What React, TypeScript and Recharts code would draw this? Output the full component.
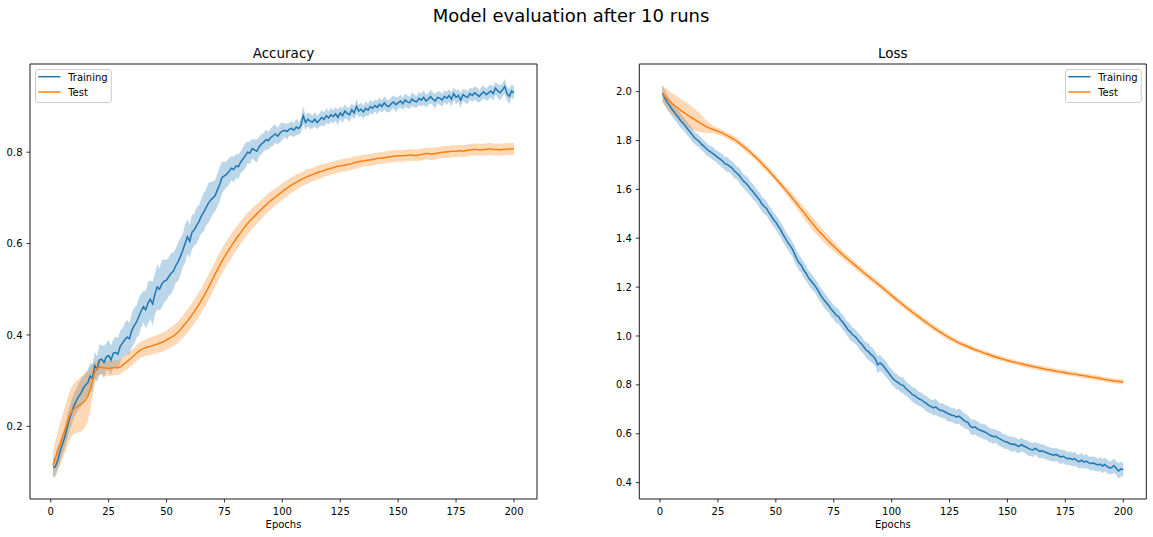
import React from 'react';
import { ComposedChart, Line, Area, XAxis, YAxis, ReferenceArea } from 'recharts';

// ---------- data ----------
const epochs: number[] = Array.from({ length: 200 }, (_, i) => i + 1);
const xTicks = [0, 25, 50, 75, 100, 125, 150, 175, 200];
const accTicks = [0.2, 0.4, 0.6, 0.8];
const lossTicks = [0.4, 0.6, 0.8, 1.0, 1.2, 1.4, 1.6, 1.8, 2.0];
const seriesNames = ['Training', 'Test'];
const mainTitle = 'Model evaluation after 10 runs';
const panelTitles = ['Accuracy', 'Loss'];
const xLabel = 'Epochs';

const trainAcc = [
  0.110, 0.112, 0.125, 0.145, 0.160, 0.175, 0.195, 0.215, 0.230, 0.245,
  0.255, 0.265, 0.272, 0.283, 0.290, 0.295, 0.310, 0.305, 0.333, 0.325,
  0.345, 0.347, 0.340, 0.352, 0.355, 0.345, 0.360, 0.362, 0.358, 0.375,
  0.382, 0.390, 0.395, 0.392, 0.410, 0.420, 0.428, 0.440, 0.452, 0.462,
  0.455, 0.470, 0.478, 0.468, 0.490, 0.505, 0.500, 0.512, 0.518, 0.520,
  0.528, 0.535, 0.540, 0.552, 0.560, 0.572, 0.585, 0.600, 0.615, 0.605,
  0.625, 0.630, 0.640, 0.648, 0.660, 0.668, 0.678, 0.688, 0.695, 0.700,
  0.705, 0.718, 0.730, 0.745, 0.748, 0.752, 0.758, 0.765, 0.762, 0.770,
  0.768, 0.778, 0.785, 0.792, 0.800, 0.798, 0.808, 0.805, 0.802, 0.812,
  0.818, 0.822, 0.828, 0.825, 0.832, 0.836, 0.840, 0.835, 0.842, 0.846,
  0.848, 0.845, 0.850, 0.852, 0.848, 0.855, 0.852, 0.858, 0.880, 0.865,
  0.872, 0.868, 0.866, 0.872, 0.865, 0.870, 0.876, 0.872, 0.880, 0.875,
  0.882, 0.878, 0.884, 0.876, 0.886, 0.880, 0.890, 0.885, 0.882, 0.893,
  0.886, 0.900, 0.890, 0.894, 0.888, 0.896, 0.892, 0.900, 0.896, 0.902,
  0.898, 0.905, 0.900, 0.908, 0.902, 0.900, 0.906, 0.910, 0.904, 0.908,
  0.912, 0.906, 0.914, 0.910, 0.908, 0.916, 0.912, 0.910, 0.918, 0.914,
  0.920, 0.912, 0.916, 0.922, 0.916, 0.912, 0.920, 0.918, 0.914, 0.922,
  0.918, 0.924, 0.916, 0.928, 0.920, 0.924, 0.914, 0.926, 0.922, 0.920,
  0.928, 0.924, 0.930, 0.926, 0.922, 0.928, 0.932, 0.926, 0.930, 0.934,
  0.928, 0.940, 0.934, 0.930, 0.936, 0.944, 0.928, 0.922, 0.934, 0.930,
];

const trainAccStd = [
  .020, .022, .024, .024, .022, .024, .026, .027, .028, .027,
  .026, .028, .030, .028, .027, .029, .028, .031, .030, .028,
  .034, .031, .036, .030, .034, .032, .030, .034, .036, .034,
  .032, .036, .038, .034, .037, .040, .035, .041, .037, .035,
  .040, .046, .042, .048, .044, .050, .046, .052, .047, .044,
  .042, .045, .040, .038, .042, .040, .036, .042, .038, .036,
  .038, .035, .040, .036, .038, .042, .039, .044, .040, .036,
  .034, .036, .038, .035, .030, .028, .030, .026, .028, .026,
  .027, .024, .026, .028, .023, .025, .021, .023, .025, .021,
  .022, .020, .022, .019, .020, .022, .020, .018, .020, .019,
  .015, .017, .014, .016, .015, .018, .014, .016, .020, .016,
  .015, .017, .014, .016, .015, .014, .017, .015, .016, .014,
  .016, .014, .015, .017, .014, .016, .015, .013, .016, .015,
  .014, .016, .013, .015, .014, .016, .013, .015, .014, .013,
  .015, .014, .013, .015, .014, .013, .015, .014, .016, .013,
  .014, .013, .015, .014, .013, .015, .014, .013, .015, .014,
  .016, .014, .013, .015, .014, .016, .013, .015, .014, .013,
  .015, .014, .016, .013, .015, .014, .016, .013, .015, .014,
  .013, .015, .014, .016, .013, .015, .014, .013, .015, .014,
  .016, .014, .015, .017, .014, .016, .015, .017, .014, .015,
];

const testAcc = [
  0.115, 0.130, 0.148, 0.160, 0.175, 0.190, 0.205, 0.222, 0.232, 0.238,
  0.242, 0.245, 0.248, 0.252, 0.258, 0.265, 0.280, 0.300, 0.318, 0.327,
  0.330, 0.329, 0.328, 0.327, 0.327, 0.327, 0.328, 0.328, 0.329, 0.330,
  0.334, 0.338, 0.342, 0.346, 0.350, 0.355, 0.360, 0.364, 0.368, 0.370,
  0.372, 0.374, 0.375, 0.377, 0.378, 0.380, 0.382, 0.384, 0.386, 0.389,
  0.392, 0.395, 0.398, 0.402, 0.406, 0.412, 0.418, 0.424, 0.430, 0.437,
  0.444, 0.451, 0.459, 0.467, 0.475, 0.484, 0.493, 0.503, 0.513, 0.523,
  0.533, 0.543, 0.553, 0.562, 0.571, 0.579, 0.587, 0.595, 0.603, 0.610,
  0.617, 0.624, 0.631, 0.638, 0.644, 0.650, 0.655, 0.660, 0.665, 0.670,
  0.675, 0.680, 0.685, 0.690, 0.694, 0.698, 0.702, 0.706, 0.710, 0.714,
  0.718, 0.721, 0.725, 0.728, 0.731, 0.734, 0.737, 0.740, 0.742, 0.745,
  0.747, 0.749, 0.751, 0.753, 0.755, 0.757, 0.758, 0.760, 0.762, 0.763,
  0.765, 0.766, 0.768, 0.769, 0.770, 0.771, 0.772, 0.773, 0.774, 0.775,
  0.777, 0.778, 0.779, 0.780, 0.781, 0.782, 0.783, 0.783, 0.784, 0.785,
  0.786, 0.787, 0.787, 0.788, 0.789, 0.790, 0.790, 0.791, 0.791, 0.792,
  0.792, 0.792, 0.793, 0.793, 0.794, 0.794, 0.793, 0.793, 0.794, 0.795,
  0.796, 0.797, 0.797, 0.796, 0.796, 0.797, 0.798, 0.799, 0.800, 0.800,
  0.801, 0.801, 0.802, 0.802, 0.802, 0.803, 0.803, 0.802, 0.803, 0.804,
  0.805, 0.806, 0.806, 0.806, 0.805, 0.805, 0.806, 0.806, 0.807, 0.807,
  0.806, 0.806, 0.806, 0.805, 0.806, 0.806, 0.807, 0.807, 0.807, 0.807,
];

const testAccStd = [
  .030, .035, .040, .045, .048, .050, .052, .053, .054, .055,
  .057, .058, .060, .060, .058, .055, .048, .036, .024, .018,
  .016, .016, .016, .016, .016, .016, .016, .016, .016, .016,
  .016, .016, .017, .017, .017, .017, .017, .018, .018, .018,
  .018, .019, .019, .019, .020, .020, .020, .021, .021, .021,
  .022, .022, .022, .023, .023, .024, .024, .025, .025, .026,
  .026, .026, .027, .027, .027, .028, .028, .028, .028, .028,
  .028, .028, .028, .028, .028, .027, .027, .027, .026, .026,
  .026, .025, .025, .024, .024, .023, .023, .022, .022, .021,
  .021, .021, .020, .020, .020, .019, .019, .019, .018, .018,
  .018, .018, .017, .017, .017, .017, .016, .016, .016, .016,
  .016, .015, .015, .015, .015, .015, .015, .014, .014, .014,
  .014, .014, .014, .014, .014, .014, .014, .014, .014, .014,
  .014, .014, .013, .013, .013, .013, .013, .013, .013, .013,
  .013, .013, .013, .013, .013, .013, .013, .013, .013, .013,
  .013, .013, .013, .013, .013, .013, .013, .013, .013, .013,
  .013, .013, .013, .013, .013, .013, .013, .013, .013, .013,
  .013, .013, .013, .013, .013, .013, .013, .013, .013, .013,
  .013, .013, .013, .013, .013, .013, .013, .013, .013, .013,
  .013, .013, .013, .013, .013, .013, .013, .013, .013, .013,
];

const trainLoss = [
  1.995, 1.975, 1.958, 1.945, 1.930, 1.918, 1.905, 1.893, 1.880, 1.870,
  1.858, 1.846, 1.835, 1.822, 1.810, 1.803, 1.795, 1.784, 1.776, 1.766,
  1.758, 1.752, 1.745, 1.738, 1.730, 1.724, 1.716, 1.705, 1.702, 1.695,
  1.688, 1.676, 1.668, 1.660, 1.646, 1.634, 1.626, 1.616, 1.602, 1.592,
  1.580, 1.568, 1.556, 1.540, 1.530, 1.522, 1.505, 1.492, 1.476, 1.466,
  1.450, 1.436, 1.418, 1.402, 1.385, 1.372, 1.358, 1.338, 1.316, 1.300,
  1.290, 1.270, 1.258, 1.240, 1.228, 1.216, 1.204, 1.190, 1.172, 1.158,
  1.145, 1.134, 1.122, 1.108, 1.098, 1.085, 1.080, 1.066, 1.055, 1.042,
  1.028, 1.018, 1.006, 1.000, 0.990, 0.976, 0.968, 0.955, 0.942, 0.936,
  0.925, 0.918, 0.905, 0.882, 0.890, 0.882, 0.870, 0.858, 0.845, 0.832,
  0.822, 0.814, 0.808, 0.800, 0.798, 0.786, 0.778, 0.770, 0.760, 0.756,
  0.748, 0.742, 0.738, 0.730, 0.724, 0.716, 0.712, 0.706, 0.710, 0.702,
  0.696, 0.694, 0.690, 0.684, 0.680, 0.676, 0.674, 0.668, 0.672, 0.665,
  0.656, 0.650, 0.646, 0.630, 0.625, 0.628, 0.620, 0.615, 0.612, 0.608,
  0.604, 0.596, 0.592, 0.588, 0.590, 0.582, 0.578, 0.572, 0.568, 0.565,
  0.560, 0.556, 0.558, 0.552, 0.548, 0.556, 0.550, 0.546, 0.540, 0.536,
  0.534, 0.540, 0.534, 0.528, 0.530, 0.526, 0.522, 0.518, 0.515, 0.512,
  0.516, 0.510, 0.505, 0.508, 0.502, 0.498, 0.500, 0.494, 0.498, 0.490,
  0.486, 0.492, 0.484, 0.488, 0.482, 0.478, 0.480, 0.476, 0.472, 0.476,
  0.468, 0.474, 0.466, 0.460, 0.462, 0.470, 0.458, 0.448, 0.456, 0.452,
];

const trainLossStd = [
  .034, .032, .031, .030, .029, .030, .028, .030, .029, .028,
  .027, .028, .026, .027, .025, .026, .024, .025, .024, .026,
  .024, .025, .026, .024, .027, .025, .028, .026, .030, .027,
  .028, .030, .027, .029, .031, .028, .030, .032, .029, .031,
  .030, .028, .031, .029, .032, .030, .028, .031, .029, .030,
  .032, .030, .033, .031, .029, .032, .030, .034, .031, .032,
  .030, .033, .031, .029, .032, .030, .028, .031, .029, .030,
  .032, .030, .028, .031, .029, .032, .030, .028, .031, .029,
  .030, .032, .029, .031, .028, .030, .032, .029, .031, .034,
  .031, .033, .030, .036, .032, .030, .033, .031, .029, .032,
  .030, .032, .029, .031, .033, .030, .028, .031, .029, .032,
  .030, .028, .031, .029, .032, .030, .028, .031, .033, .030,
  .028, .031, .029, .032, .030, .028, .031, .029, .030, .032,
  .029, .031, .028, .030, .032, .029, .031, .028, .030, .032,
  .029, .031, .028, .030, .027, .029, .031, .028, .030, .027,
  .029, .031, .028, .030, .027, .029, .026, .028, .030, .027,
  .029, .026, .028, .030, .027, .029, .026, .028, .027, .029,
  .026, .028, .030, .027, .029, .026, .028, .027, .029, .026,
  .028, .030, .027, .029, .026, .028, .027, .029, .026, .028,
  .030, .027, .029, .026, .028, .030, .027, .032, .029, .028,
];

const testLoss = [
  1.993, 1.982, 1.972, 1.962, 1.953, 1.945, 1.938, 1.930, 1.923, 1.916,
  1.910, 1.903, 1.897, 1.891, 1.885, 1.879, 1.873, 1.868, 1.862, 1.857,
  1.852, 1.848, 1.845, 1.842, 1.838, 1.834, 1.830, 1.825, 1.820, 1.815,
  1.810, 1.805, 1.798, 1.791, 1.783, 1.776, 1.768, 1.760, 1.752, 1.743,
  1.734, 1.725, 1.716, 1.706, 1.696, 1.686, 1.676, 1.665, 1.655, 1.644,
  1.633, 1.622, 1.611, 1.600, 1.589, 1.578, 1.566, 1.554, 1.542, 1.530,
  1.518, 1.506, 1.494, 1.482, 1.470, 1.458, 1.447, 1.436, 1.425, 1.415,
  1.405, 1.395, 1.385, 1.376, 1.367, 1.358, 1.349, 1.340, 1.331, 1.323,
  1.315, 1.307, 1.299, 1.291, 1.283, 1.275, 1.267, 1.259, 1.251, 1.244,
  1.236, 1.228, 1.221, 1.213, 1.206, 1.198, 1.190, 1.182, 1.174, 1.166,
  1.158, 1.150, 1.142, 1.135, 1.127, 1.120, 1.112, 1.105, 1.097, 1.090,
  1.083, 1.076, 1.069, 1.062, 1.055, 1.048, 1.041, 1.035, 1.028, 1.022,
  1.016, 1.010, 1.004, 0.998, 0.992, 0.987, 0.982, 0.977, 0.972, 0.968,
  0.964, 0.960, 0.956, 0.952, 0.948, 0.944, 0.941, 0.937, 0.934, 0.930,
  0.927, 0.924, 0.920, 0.917, 0.914, 0.911, 0.908, 0.906, 0.903, 0.900,
  0.898, 0.895, 0.893, 0.890, 0.888, 0.886, 0.884, 0.881, 0.879, 0.877,
  0.875, 0.873, 0.871, 0.869, 0.867, 0.865, 0.863, 0.862, 0.860, 0.858,
  0.856, 0.855, 0.853, 0.852, 0.850, 0.848, 0.847, 0.845, 0.844, 0.842,
  0.840, 0.839, 0.837, 0.836, 0.834, 0.832, 0.831, 0.829, 0.828, 0.826,
  0.824, 0.822, 0.821, 0.819, 0.818, 0.816, 0.815, 0.814, 0.813, 0.812,
];

const testLossStd = [
  .030, .035, .038, .040, .042, .044, .045, .046, .047, .048,
  .048, .048, .047, .046, .045, .042, .038, .034, .030, .026,
  .022, .018, .015, .014, .013, .013, .013, .013, .013, .013,
  .013, .013, .013, .013, .013, .013, .013, .013, .013, .013,
  .013, .013, .013, .013, .014, .014, .014, .014, .014, .014,
  .014, .014, .015, .015, .016, .017, .018, .019, .020, .021,
  .022, .023, .024, .025, .025, .026, .026, .026, .025, .025,
  .024, .023, .022, .021, .020, .019, .018, .017, .016, .016,
  .015, .015, .015, .014, .014, .014, .014, .013, .013, .013,
  .013, .013, .013, .013, .013, .013, .013, .013, .013, .013,
  .012, .012, .012, .012, .012, .012, .012, .012, .012, .012,
  .012, .012, .012, .012, .012, .012, .012, .012, .012, .012,
  .012, .012, .012, .011, .011, .011, .011, .011, .011, .011,
  .010, .010, .010, .010, .010, .010, .010, .010, .010, .010,
  .010, .010, .010, .010, .010, .010, .010, .010, .010, .010,
  .010, .010, .010, .010, .010, .010, .010, .010, .010, .010,
  .010, .010, .010, .010, .010, .010, .010, .010, .010, .010,
  .010, .010, .010, .010, .010, .010, .010, .010, .010, .010,
  .010, .010, .010, .010, .010, .010, .010, .010, .010, .010,
  .010, .010, .010, .010, .010, .010, .010, .010, .010, .010,
];

// ---------- build tables ----------
function buildTable(train: number[], trainStd: number[], test: number[], testStd: number[]) {
  return epochs.map((e, i) => ({
    epoch: e,
    train: train[i],
    test: test[i],
    trainBand: [train[i] - trainStd[i], train[i] + trainStd[i]],
    testBand: [test[i] - testStd[i], test[i] + testStd[i]],
  }));
}
const accTable = buildTable(trainAcc, trainAccStd, testAcc, testAccStd);
const lossTable = buildTable(trainLoss, trainLossStd, testLoss, testLossStd);

// ---------- style ----------
const FONT = 'DejaVu Sans';
const BLUE = '#1f77b4';
const ORANGE = '#ff7f0e';
const X_DOMAIN: [number, number] = [-8.95, 209.95];
const H = 537;

type PanelProps = {
  data: any[];
  left: number;
  width: number;
  yAxisWidth: number;
  rightMargin: number;
  yDomain: [number, number];
  yTicks: number[];
};

function Panel({ data, left, width, yAxisWidth, rightMargin, yDomain, yTicks }: PanelProps) {
  const tickStyle = { fill: '#000', fontSize: 10, fontFamily: FONT };
  return (
    <div style={{ position: 'absolute', left, top: 0 }}>
      <ComposedChart
        width={width}
        height={H}
        data={data}
        margin={{ top: 64, right: rightMargin, bottom: 0, left: 0 }}
        style={{ fontFamily: FONT }}
      >
        <XAxis
          dataKey="epoch"
          type="number"
          domain={X_DOMAIN}
          ticks={xTicks}
          interval={0}
          allowDataOverflow
          height={38}
          tickSize={3.5}
          tickMargin={5}
          axisLine={false}
          tickLine={{ stroke: '#000', strokeWidth: 0.8 }}
          tick={tickStyle}
        />
        <YAxis
          type="number"
          domain={yDomain}
          ticks={yTicks}
          interval={0}
          allowDataOverflow
          width={yAxisWidth}
          tickSize={3.5}
          tickMargin={4}
          axisLine={false}
          tickLine={{ stroke: '#000', strokeWidth: 0.8 }}
          tick={tickStyle}
          tickFormatter={(v: number) => v.toFixed(1)}
        />
        <Area
          dataKey="trainBand"
          type="linear"
          stroke="none"
          fill={BLUE}
          fillOpacity={0.3}
          isAnimationActive={false}
          activeDot={false}
        />
        <Area
          dataKey="testBand"
          type="linear"
          stroke="none"
          fill={ORANGE}
          fillOpacity={0.3}
          isAnimationActive={false}
          activeDot={false}
        />
        <Line
          dataKey="train"
          type="linear"
          stroke={BLUE}
          strokeWidth={1.5}
          dot={false}
          activeDot={false}
          isAnimationActive={false}
        />
        <Line
          dataKey="test"
          type="linear"
          stroke={ORANGE}
          strokeWidth={1.5}
          dot={false}
          activeDot={false}
          isAnimationActive={false}
        />
        <ReferenceArea
          x1={X_DOMAIN[0]}
          x2={X_DOMAIN[1]}
          y1={yDomain[0]}
          y2={yDomain[1]}
          fill="none"
          fillOpacity={0}
          stroke="#000"
          strokeWidth={0.9}
          ifOverflow="visible"
        />
      </ComposedChart>
    </div>
  );
}

function LegendBox({ x, y }: { x: number; y: number }) {
  const colors = [BLUE, ORANGE];
  return (
    <g>
      <rect x={x} y={y} width={75.8} height={33} rx={2.5} ry={2.5} fill="#fff" fillOpacity={0.8} stroke="#cccccc" strokeWidth={1} />
      {seriesNames.map((name, i) => (
        <g key={name}>
          <line x1={x + 2.8} x2={x + 25} y1={y + 7.2 + i * 15.3} y2={y + 7.2 + i * 15.3} stroke={colors[i]} strokeWidth={1.5} />
          <text x={x + 32.7} y={y + 11.3 + i * 15.5} fontSize={10} fontFamily={FONT} fill="#000">
            {name}
          </text>
        </g>
      ))}
    </g>
  );
}

export default function App() {
  return (
    <div style={{ position: 'absolute', left: 0, top: 0, width: 1153, height: H, background: '#fff', overflow: 'hidden' }}>
      <Panel data={accTable} left={0} width={560} yAxisWidth={30} rightMargin={23} yDomain={[0.041, 0.993]} yTicks={accTicks} />
      <Panel data={lossTable} left={600} width={553} yAxisWidth={39.3} rightMargin={6.7} yDomain={[0.333, 2.113]} yTicks={lossTicks} />
      <svg width={1153} height={H} style={{ position: 'absolute', left: 0, top: 0, pointerEvents: 'none' }}>
        <text x={571} y={21.7} textAnchor="middle" fontSize={18} fontFamily={FONT} fill="#000">{mainTitle}</text>
        <text x={283.5} y={58.3} textAnchor="middle" fontSize={13.5} fontFamily={FONT} fill="#000">{panelTitles[0]}</text>
        <text x={892.8} y={58.3} textAnchor="middle" fontSize={13.5} fontFamily={FONT} fill="#000">{panelTitles[1]}</text>
        <text x={283.5} y={528} textAnchor="middle" fontSize={10} fontFamily={FONT} fill="#000">{xLabel}</text>
        <text x={892.8} y={528} textAnchor="middle" fontSize={10} fontFamily={FONT} fill="#000">{xLabel}</text>
        <LegendBox x={35.5} y={69.5} />
        <LegendBox x={1065.5} y={69.5} />
      </svg>
    </div>
  );
}
